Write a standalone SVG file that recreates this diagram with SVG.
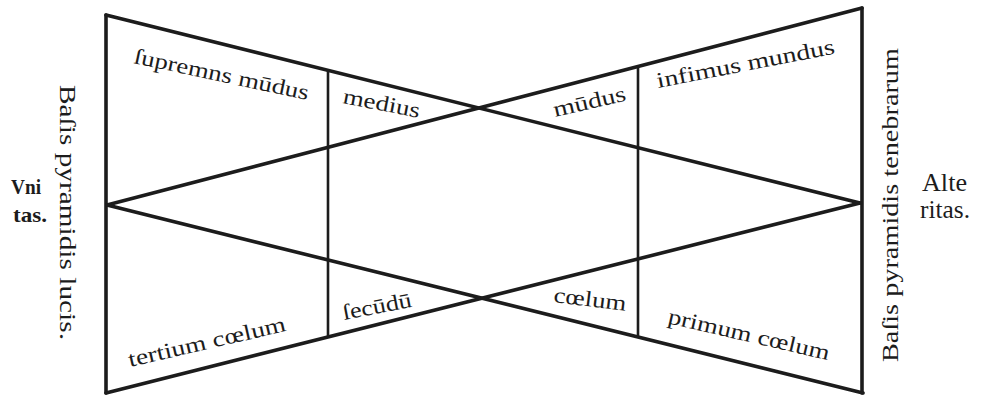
<svg xmlns="http://www.w3.org/2000/svg" width="982" height="397" viewBox="0 0 982 397">
<style>
.ln{stroke:#1c1c1c;stroke-width:3.6;fill:none;stroke-linecap:round;stroke-linejoin:round}
.vl{stroke:#1c1c1c;stroke-width:2.6;fill:none}
.lb{font-family:"Liberation Serif","DejaVu Serif",serif;font-size:22px;fill:#1c1c1c}
.vt{font-family:"Liberation Serif","DejaVu Serif",serif;font-size:24px;fill:#1c1c1c}
.bd{font-family:"Liberation Serif","DejaVu Serif",serif;font-size:21px;font-weight:bold;fill:#1c1c1c}
.ap{font-family:"Liberation Serif","DejaVu Serif",serif;font-size:25px;fill:#1c1c1c}
</style>
<rect width="982" height="397" fill="#ffffff"/>
<g id="connectors">
<line class="ln" x1="106" y1="15" x2="106" y2="393"/>
<line class="ln" x1="862" y1="8" x2="862" y2="393"/>
<line class="ln" x1="106" y1="15" x2="860" y2="203"/>
<line class="ln" x1="862" y1="8" x2="107" y2="205"/>
<line class="ln" x1="106" y1="393" x2="860" y2="203"/>
<line class="ln" x1="863" y1="393" x2="107" y2="205"/>
<line class="vl" x1="328" y1="70" x2="328" y2="337"/>
<line class="vl" x1="638" y1="68" x2="638" y2="337"/>
</g>
<g id="supremus">
<text class="lb" transform="translate(133,63) rotate(12)" textLength="178" lengthAdjust="spacingAndGlyphs">ſupremns mūdus</text>
</g>
<g id="medius">
<text class="lb" transform="translate(342,103) rotate(11)" textLength="78" lengthAdjust="spacingAndGlyphs">medius</text>
</g>
<g id="mudus">
<text class="lb" transform="translate(555,117) rotate(-13)" textLength="74" lengthAdjust="spacingAndGlyphs">mūdus</text>
</g>
<g id="infimus">
<text class="lb" transform="translate(658,88) rotate(-11)" textLength="181" lengthAdjust="spacingAndGlyphs">infimus mundus</text>
</g>
<g id="secudu">
<text class="lb" transform="translate(344,320) rotate(-11)" textLength="70" lengthAdjust="spacingAndGlyphs">ſecūdū</text>
</g>
<g id="coelum">
<text class="lb" transform="translate(553,302) rotate(7)" textLength="73" lengthAdjust="spacingAndGlyphs">cœlum</text>
</g>
<g id="tertium">
<text class="lb" transform="translate(130,367) rotate(-13)" textLength="161" lengthAdjust="spacingAndGlyphs">tertium cœlum</text>
</g>
<g id="primum">
<text class="lb" transform="translate(667,323) rotate(13)" textLength="165" lengthAdjust="spacingAndGlyphs">primum cœlum</text>
</g>
<g id="basis-lucis">
<text class="vt" transform="translate(60,85) rotate(90)" textLength="255" lengthAdjust="spacingAndGlyphs">Baſis pyramidis lucis.</text>
</g>
<g id="basis-tenebrarum">
<text class="vt" transform="translate(898,362) rotate(-90)" textLength="314" lengthAdjust="spacingAndGlyphs">Baſis pyramidis tenebrarum</text>
</g>
<g id="vnitas">
<text class="bd" x="11" y="194" textLength="30" lengthAdjust="spacingAndGlyphs">Vni</text>
<text class="bd" x="13" y="222" textLength="34" lengthAdjust="spacingAndGlyphs">tas.</text>
</g>
<g id="alteritas">
<text class="ap" x="922" y="191" textLength="45" lengthAdjust="spacingAndGlyphs">Alte</text>
<text class="ap" x="920" y="218" textLength="50" lengthAdjust="spacingAndGlyphs">ritas.</text>
</g>
</svg>
